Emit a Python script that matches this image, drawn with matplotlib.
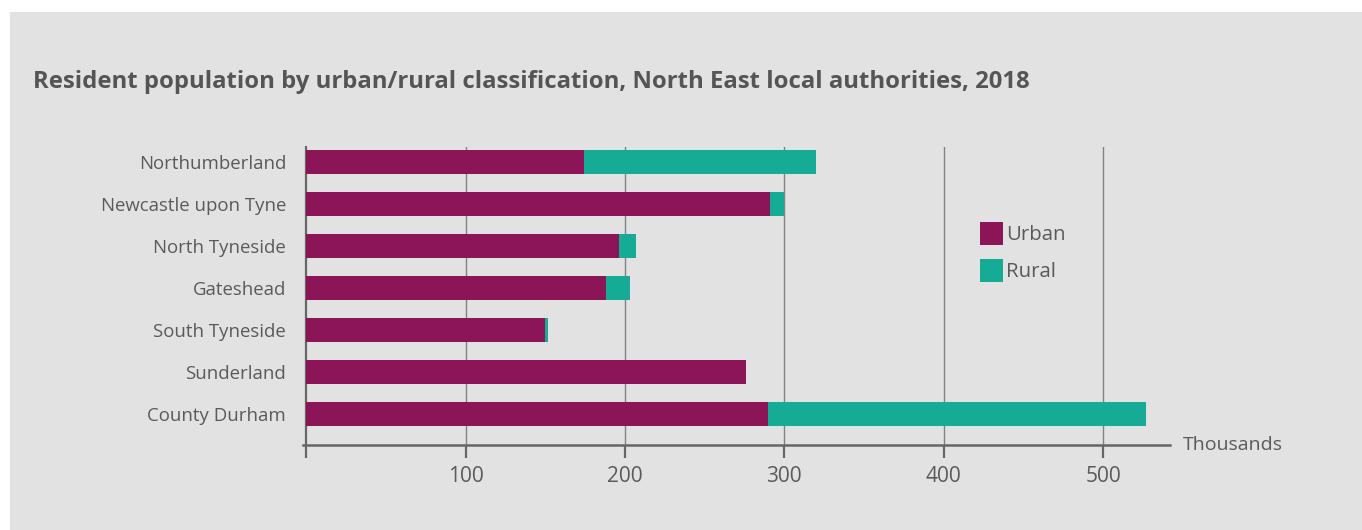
import matplotlib
matplotlib.use('Agg')
import matplotlib.pyplot as plt
from matplotlib.patches import Patch, Rectangle

plt.rcParams['font.family'] = ['Open Sans', 'DejaVu Sans']

areas = ['Northumberland', 'Newcastle upon Tyne', 'North Tyneside', 'Gateshead',
         'South Tyneside', 'Sunderland', 'County Durham']
urban = [174, 291, 196, 188, 150, 276, 290]
rural = [146, 9, 11, 15, 2, 0, 237]
xticks = [100, 200, 300, 400, 500]

urban_col = '#8c1558'
rural_col = '#16ab94'
bg = '#e2e2e2'
txt = '#5a5a5a'

W, H = 1362, 530
fig = plt.figure(figsize=(W / 100, H / 100), dpi=100, facecolor='white')
# grey panel, leaving a thin white strip top and left
fig.patches.append(Rectangle((10 / W, 0), 1 - 10 / W, 1 - 12 / H, transform=fig.transFigure,
                             facecolor=bg, edgecolor='none', zorder=-10))

ax = fig.add_axes([303 / W, (H - 445) / H, (1170 - 303) / W, (445 - 147) / H])
ax.set_facecolor('none')

ypos = list(range(len(areas)))
ax.barh(ypos, urban, height=0.57, color=urban_col, zorder=3)
ax.barh(ypos, rural, left=urban, height=0.57, color=rural_col, zorder=3)

ax.set_xlim(-2, 542)
ax.set_ylim(6.74, -0.36)

ax.set_xticks([0] + xticks)
ax.set_xticklabels([''] + [str(t) for t in xticks])
ax.set_yticks(ypos)
ax.set_yticklabels(areas)

for t in xticks:
    ax.axvline(t, color='#828282', lw=1.0, zorder=1)

for s in ['top', 'right']:
    ax.spines[s].set_visible(False)
ax.spines['left'].set_position(('data', 0))
ax.spines['left'].set_color('#666666')
ax.spines['left'].set_linewidth(1.6)
ax.spines['bottom'].set_color('#666666')
ax.spines['bottom'].set_linewidth(1.8)

ax.tick_params(axis='x', direction='out', length=9, width=1.6, color='#666666',
               labelsize=15, labelcolor=txt, pad=6)
ax.tick_params(axis='y', length=0, labelsize=13.4, labelcolor=txt, pad=14.5)

fig.text(1183 / W, 1 - 445 / H, 'Thousands', fontsize=14, color=txt, va='center', ha='left')

fig.text(33 / W, 1 - 82 / H,
         'Resident population by urban/rural classification, North East local authorities, 2018',
         fontsize=17.2, fontweight='bold', color='#555555', va='center', ha='left')

handles = [Patch(facecolor=urban_col, edgecolor='none'), Patch(facecolor=rural_col, edgecolor='none')]
fig.legend(handles, ['Urban', 'Rural'], loc='upper left',
           bbox_to_anchor=(980 / W, 1 - 222 / H), frameon=False, fontsize=14.7,
           handlelength=1.13, handleheight=1.36, handletextpad=0.15,
           labelspacing=0.65, borderpad=0, borderaxespad=0, labelcolor=txt)

fig.savefig('out.png', dpi=100, facecolor='white')
